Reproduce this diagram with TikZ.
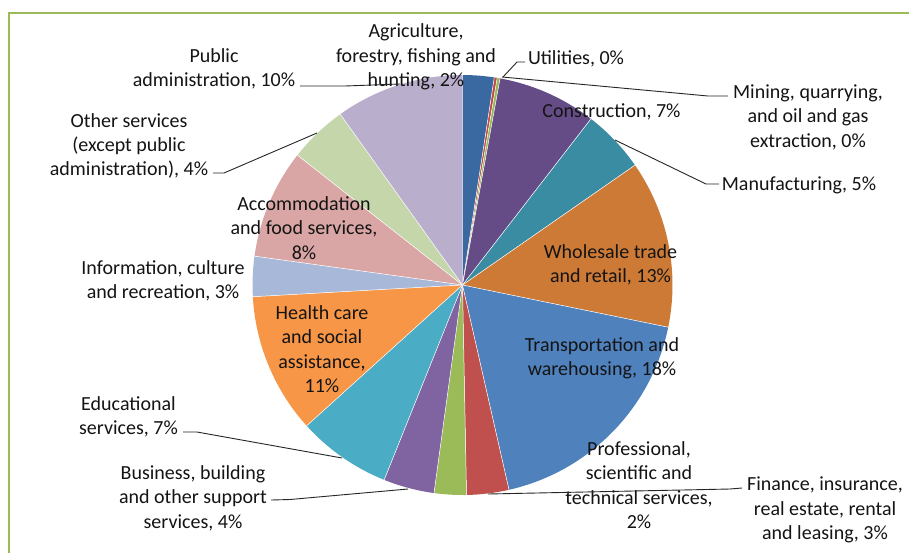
\documentclass[tikz,border=0pt]{standalone}
\usepackage{fontspec}
\setmainfont{Carlito}
\definecolor{txt}{RGB}{20,20,20}
\definecolor{framec}{RGB}{155,187,89}
\definecolor{cAgr}{RGB}{58,104,160}
\definecolor{cUti}{RGB}{190,75,72}
\definecolor{cMin}{RGB}{150,185,85}
\definecolor{cCon}{RGB}{101,76,135}
\definecolor{cMan}{RGB}{58,140,163}
\definecolor{cWho}{RGB}{205,122,55}
\definecolor{cTra}{RGB}{79,129,189}
\definecolor{cFin}{RGB}{192,80,77}
\definecolor{cPro}{RGB}{155,187,89}
\definecolor{cBus}{RGB}{128,100,162}
\definecolor{cEdu}{RGB}{75,172,198}
\definecolor{cHea}{RGB}{247,150,70}
\definecolor{cInf}{RGB}{168,184,216}
\definecolor{cAcc}{RGB}{217,166,165}
\definecolor{cOth}{RGB}{196,214,170}
\definecolor{cPub}{RGB}{185,174,204}
\newcommand\pieslice[3]{\fill[#3] (c) -- ++(#1:210) arc[start angle=#1, end angle=#2, radius=210] -- cycle;
  \draw[sep] (c) -- ++(#1:210);}
\begin{document}
\begin{tikzpicture}[x=1pt,y=-1pt,
  lbl/.style={font=\fontsize{20}{24.4}\selectfont, align=center, inner sep=0pt, text=txt},
  leader/.style={draw=black!85, line width=0.9pt},
  sep/.style={draw=white, line width=0.5pt},
  framebox/.style={draw=framec, line width=2pt}]
\useasboundingbox (0,0) rectangle (909,552);
\fill[white] (0,0) rectangle (909,552);
\begin{scope}
  \clip (0,0) rectangle (909,552);
  \draw[framebox] (8.5,12.7) rectangle (950,600);
\end{scope}
\coordinate (c) at (462.5,285);
% slices, clockwise from the top
\pieslice{-90}{-81.3}{cAgr}
\pieslice{-81.3}{-80.5}{cUti}
\pieslice{-80.5}{-79.7}{cMin}
\pieslice{-79.7}{-52.3}{cCon}
\pieslice{-52.3}{-34.8}{cMan}
\pieslice{-34.8}{11.6}{cWho}
\pieslice{11.6}{77.2}{cTra}
\pieslice{77.2}{88.9}{cFin}
\pieslice{88.9}{97.8}{cPro}
\pieslice{97.8}{111.9}{cBus}
\pieslice{111.9}{137.9}{cEdu}
\pieslice{137.9}{176.8}{cHea}
\pieslice{176.8}{187.9}{cInf}
\pieslice{187.9}{218.2}{cAcc}
\pieslice{218.2}{234.4}{cOth}
\pieslice{234.4}{270}{cPub}
% labels
\node[lbl] (pub) at (214,69) {Public\\administration, 10\%};
\node[lbl] (agr) at (416,57) {Agriculture,\\forestry, fishing and\\hunting, 2\%};
\node[lbl] (uti) at (576,59) {Utilities, 0\%};
\node[lbl] (min) at (808,117) {Mining, quarrying,\\and oil and gas\\extraction, 0\%};
\node[lbl] (con) at (611.5,112) {Construction, 7\%};
\node[lbl] (man) at (799,185) {Manufacturing, 5\%};
\node[lbl] (who) at (610.5,265) {Wholesale trade\\and retail, 13\%};
\node[lbl] (tra) at (602,358) {Transportation and\\warehousing, 18\%};
\node[lbl] (pro) at (639,485) {Professional,\\scientific and\\technical services,\\2\%};
\node[lbl] (fin) at (825,510) {Finance, insurance,\\real estate, rental\\and leasing, 3\%};
\node[lbl] (bus) at (193,498) {Business, building\\and other support\\services, 4\%};
\node[lbl] (edu) at (128.5,417) {Educational\\services, 7\%};
\node[lbl] (hea) at (322,349) {Health care\\and social\\assistance,\\11\%};
\node[lbl] (inf) at (163,281) {Information, culture\\and recreation, 3\%};
\node[lbl] (acc) at (304,228) {Accommodation\\and food services,\\8\%};
\node[lbl] (oth) at (129,146) {Other services\\(except public\\administration), 4\%};
% leader lines
\coordinate (pubA) at (300,86);  \coordinate (pubB) at (345,86);  \coordinate (pubP) at (400,84);
\coordinate (utiA) at (525,62);  \coordinate (utiB) at (517,62);  \coordinate (utiP) at (503,77);
\coordinate (minA) at (728,96);  \coordinate (minB) at (708,96);  \coordinate (minP) at (502,77);
\coordinate (manA) at (719,184); \coordinate (manB) at (706,184); \coordinate (manP) at (615,140);
\coordinate (finA) at (742,488); \coordinate (finB) at (730,489); \coordinate (finP) at (488,494);
\coordinate (busA) at (271,500); \coordinate (busB) at (290,499.5); \coordinate (busP) at (408,489);
\coordinate (eduA) at (183,432); \coordinate (eduB) at (197,432); \coordinate (eduP) at (342,458);
\coordinate (othA) at (213,173); \coordinate (othB) at (224,173); \coordinate (othP) at (317,133);
\draw[leader] (pubA) -- (pubB) -- (pubP);
\draw[leader] (utiA) -- (utiB) -- (utiP);
\draw[leader] (minA) -- (minB) -- (minP);
\draw[leader] (manA) -- (manB) -- (manP);
\draw[leader] (finA) -- (finB) -- (finP);
\draw[leader] (busA) -- (busB) -- (busP);
\draw[leader] (eduA) -- (eduB) -- (eduP);
\draw[leader] (othA) -- (othB) -- (othP);
\end{tikzpicture}
\end{document}
